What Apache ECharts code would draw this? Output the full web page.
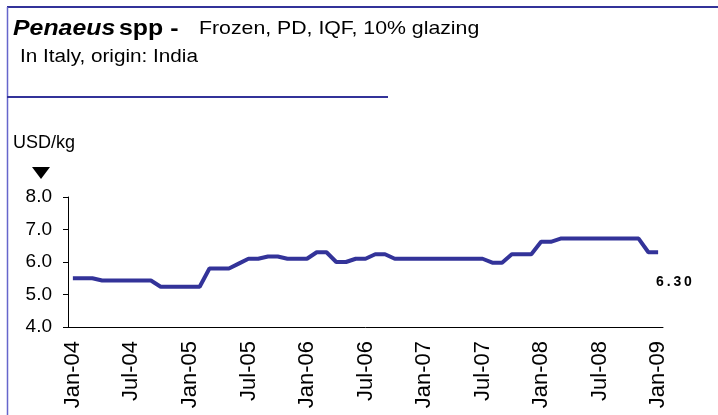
<!doctype html>
<html>
<head>
<meta charset="utf-8">
<script src="https://cdn.jsdelivr.net/npm/echarts@6/dist/echarts.min.js"></script>
<style>
* { margin: 0; padding: 0; }
body { background: #fff; }
#chart { width: 718px; height: 415px; }
</style>
</head>
<body>
<div id="chart"></div>
<script>
// monthly months Jan-04 .. Jan-09
var months = ['Jan-04','Feb-04','Mar-04','Apr-04','May-04','Jun-04','Jul-04','Aug-04','Sep-04','Oct-04','Nov-04','Dec-04',
	'Jan-05','Feb-05','Mar-05','Apr-05','May-05','Jun-05','Jul-05','Aug-05','Sep-05','Oct-05','Nov-05','Dec-05',
	'Jan-06','Feb-06','Mar-06','Apr-06','May-06','Jun-06','Jul-06','Aug-06','Sep-06','Oct-06','Nov-06','Dec-06',
	'Jan-07','Feb-07','Mar-07','Apr-07','May-07','Jun-07','Jul-07','Aug-07','Sep-07','Oct-07','Nov-07','Dec-07',
	'Jan-08','Feb-08','Mar-08','Apr-08','May-08','Jun-08','Jul-08','Aug-08','Sep-08','Oct-08','Nov-08','Dec-08',
	'Jan-09'];

// price USD/kg
var prices = [5.50,5.50,5.50,5.43,5.43,5.43,5.43,5.43,5.43,5.24,5.24,5.24,
	5.24,5.24,5.80,5.80,5.80,5.95,6.10,6.10,6.17,6.17,6.10,6.10,
	6.10,6.30,6.30,6.00,6.00,6.10,6.10,6.24,6.24,6.10,6.10,6.10,
	6.10,6.10,6.10,6.10,6.10,6.10,6.10,5.98,5.98,6.24,6.24,6.24,
	6.62,6.62,6.72,6.72,6.72,6.72,6.72,6.72,6.72,6.72,6.72,6.30,
	6.30];

var yTicks = [4, 5, 6, 7, 8];

var FONT = 'Liberation Sans';
var myChart = echarts.init(document.getElementById('chart'));

var option = {
	animation: false,
	textStyle: { fontFamily: FONT },
	graphic: [
		// frame lines
		{ type: 'line', shape: { x1: 7, y1: 7, x2: 718, y2: 7 }, style: { stroke: '#333399', lineWidth: 2 } },
		{ type: 'line', shape: { x1: 7.5, y1: 7, x2: 7.5, y2: 415 }, style: { stroke: '#6666cc', lineWidth: 1.5 } },
		{ type: 'line', shape: { x1: 7, y1: 97, x2: 388, y2: 97 }, style: { stroke: '#333399', lineWidth: 2 } },
		// title
		{ type: 'text', x: 13, y: 29, scaleX: 1.13, style: {
			rich: {
				a: { fontSize: 22, fontWeight: 'bold', fontStyle: 'italic', fill: '#000', fontFamily: FONT },
				b: { fontSize: 22, fontWeight: 'bold', fill: '#000', fontFamily: FONT }
			},
			text: '{a|Penaeus} {b|spp -}', verticalAlign: 'middle', fontSize: 12
		} },
		{ type: 'text', x: 199, y: 29, scaleX: 1.15, style: { text: 'Frozen, PD, IQF, 10% glazing', fontSize: 18.5, fill: '#000', fontFamily: FONT, verticalAlign: 'middle' } },
		{ type: 'text', x: 20, y: 57, scaleX: 1.15, style: { text: 'In Italy, origin: India', fontSize: 18, fill: '#000', fontFamily: FONT, verticalAlign: 'middle' } },
		{ type: 'text', x: 13, y: 143, style: { text: 'USD/kg', fontSize: 18, fill: '#000', fontFamily: FONT, verticalAlign: 'middle' } },
		{ type: 'polygon', shape: { points: [[32, 167], [50, 167], [41, 179]] }, style: { fill: '#000' } }
	],
	grid: { left: 68, right: 55, top: 197, bottom: 88, containLabel: false },
	xAxis: {
		type: 'category',
		data: months,
		boundaryGap: true,
		axisLine: { lineStyle: { color: '#000', width: 1 } },
		axisTick: { interval: 5, length: 5, lineStyle: { color: '#000' } },
		axisLabel: { interval: 5, rotate: 90, fontSize: 22, color: '#000', margin: 14 },
		splitLine: { show: false }
	},
	yAxis: {
		type: 'value',
		min: yTicks[0],
		max: yTicks[yTicks.length - 1],
		interval: 1,
		axisLine: { show: true, lineStyle: { color: '#000', width: 1 } },
		axisTick: { show: true, length: 5, lineStyle: { color: '#000' } },
		axisLabel: { fontSize: 19, color: '#000', margin: 16, formatter: function (v) { return v.toFixed(1); } },
		splitLine: { show: false }
	},
	series: [{
		type: 'line',
		data: prices,
		symbol: 'none',
		lineStyle: { color: '#333399', width: 4 },
		endLabel: {
			show: true,
			formatter: function (p) { return p.value.toFixed(2).split('').join('\u2009'); },
			fontSize: 14,
			fontWeight: 'bold',
			color: '#000',
			offset: [-10, 30]
		}
	}]
};

myChart.setOption(option);
</script>
</body>
</html>
